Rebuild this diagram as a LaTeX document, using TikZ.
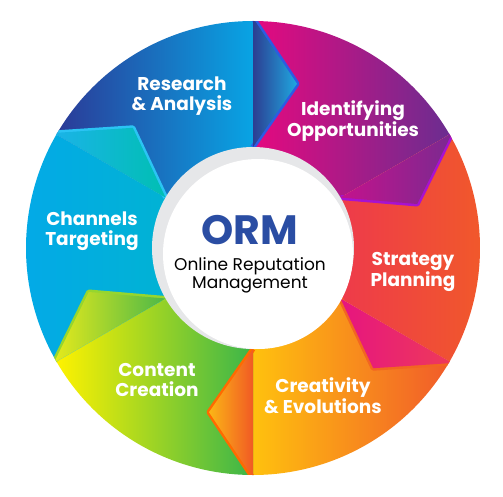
\documentclass[tikz,border=0pt]{standalone}
\usepackage{fontspec}
\setmainfont{Poppins}
\definecolor{ormblue}{HTML}{2A4DA3}
\definecolor{ringgrey}{HTML}{E6E7E9}
\definecolor{researchL}{HTML}{2B3A97}
\definecolor{researchR}{HTML}{08A4E4}
\definecolor{identL}{HTML}{E5097F}
\definecolor{identR}{HTML}{6B2D90}
\definecolor{strategyL}{HTML}{EC285E}
\definecolor{strategyR}{HTML}{F15A29}
\definecolor{creatL}{HTML}{FFC10E}
\definecolor{creatR}{HTML}{F15B2A}
\definecolor{contentL}{HTML}{FFF200}
\definecolor{contentR}{HTML}{3AB54A}
\definecolor{chanL}{HTML}{03A9E8}
\definecolor{chanR}{HTML}{00B8C8}
\tikzset{
  step label/.style={text=white, font=\bfseries\fontsize{18.5}{20.5}\selectfont, align=center, inner sep=0pt},
  rim/.style={line width=5pt, line join=round}
}
\begin{document}
\begin{tikzpicture}[x=1pt,y=1pt]
        \useasboundingbox (-253,-248) rectangle (250,248);
        \fill[white] (-253,-248) rectangle (250,248);
        \begin{scope}
        \clip (0,0) circle (227);
        \shade[left color=researchL, right color=researchR] (0,0) -- (90:227) arc[start angle=90, end angle=150, radius=227] -- cycle;
        \shade[left color=identL, right color=identR] (0,0) -- (30:227) arc[start angle=30, end angle=90, radius=227] -- cycle;
        \shade[left color=strategyL, right color=strategyR] (0,0) -- (-30:227) arc[start angle=-30, end angle=30, radius=227] -- cycle;
        \shade[left color=creatL, right color=creatR] (0,0) -- (-90:227) arc[start angle=-90, end angle=-30, radius=227] -- cycle;
        \shade[left color=contentL, right color=contentR] (0,0) -- (210:227) arc[start angle=210, end angle=270, radius=227] -- cycle;
        \shade[left color=chanL, right color=chanR] (0,0) -- (150:227) arc[start angle=150, end angle=210, radius=227] -- cycle;
        \draw[rim, color={rgb,255:red,45;green,91;blue,227}] (90:230) -- (75:170) -- (90:101);
        \shade[left color={rgb,255:red,44;green,62;blue,146}, right color={rgb,255:red,31;green,168;blue,224}] (90:230) -- (75:170) -- (90:101) -- cycle;
        \draw[rim, color={rgb,255:red,168;green,18;blue,208}] (30:230) -- (15:170) -- (30:101);
        \shade[left color={rgb,255:red,196;green,18;blue,140}, right color={rgb,255:red,122;green,42;blue,144}] (30:230) -- (15:170) -- (30:101) -- cycle;
        \draw[rim, color={rgb,255:red,242;green,101;blue,34}] (-30:230) -- (-45:170) -- (-30:101);
        \shade[left color={rgb,255:red,230;green,21;blue,127}, right color={rgb,255:red,238;green,58;blue,90}] (-30:230) -- (-45:170) -- (-30:101) -- cycle;
        \draw[rim, color={rgb,255:red,255;green,106;blue,0}] (-90:230) -- (-105:170) -- (-90:101);
        \shade[left color={rgb,255:red,251;green,181;blue,22}, right color={rgb,255:red,241;green,90;blue,36}] (-90:230) -- (-105:170) -- (-90:101) -- cycle;
        \draw[rim, color={rgb,255:red,150;green,214;blue,46}] (210:230) -- (195:170) -- (210:101);
        \shade[left color={rgb,255:red,230;green,234;blue,27}, right color={rgb,255:red,76;green,184;blue,72}] (210:230) -- (195:170) -- (210:101) -- cycle;
        \draw[rim, color={rgb,255:red,43;green,196;blue,244}] (150:230) -- (135:170) -- (150:101);
        \shade[left color={rgb,255:red,27;green,179;blue,232}, right color={rgb,255:red,0;green,191;blue,179}] (150:230) -- (135:170) -- (150:101) -- cycle;
        \end{scope}
        \fill[ringgrey] (0,0) circle (101);
        \fill[white] (5,-6) circle (95);
        \node[step label] (research) at (-71,152) {Research\\\& Analysis};
        \node[step label] (identify) at (100,127) {Identifying\\Opportunities};
        \node[step label] (strategy) at (160,-24) {Strategy\\Planning};
        \node[step label] (creativity) at (70,-147.5) {Creativity\\\& Evolutions};
        \node[step label] (content) at (-96,-132) {Content\\Creation};
        \node[step label] (channels) at (-161,17) {Channels\\Targeting};
        \node[text=ormblue, font=\bfseries\fontsize{41}{41}\selectfont, inner sep=0pt] (orm) at (-3.5,18) {ORM};
        \node[font=\fontsize{17}{18}\selectfont, align=center, inner sep=0pt] (ormname) at (-3,-27.5) {Online Reputation\\Management};
        \end{tikzpicture}
\end{document}
